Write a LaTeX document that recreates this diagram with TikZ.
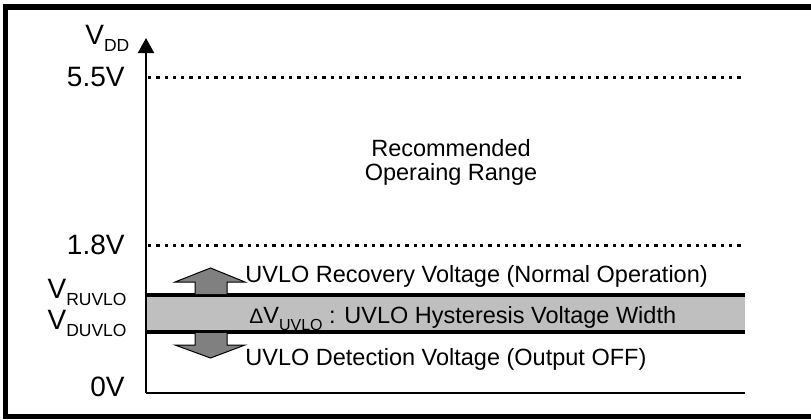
\documentclass[tikz,border=0pt]{standalone}
\usepackage{fontspec}
\setmainfont{Liberation Sans}
\usetikzlibrary{arrows.meta,positioning}
\newcommand\lowsub[2][8.75]{\raisebox{-3.5pt}{\fontsize{#1}{10}\selectfont #2}}
\tikzset{
  lvl/.style={font=\fontsize{14}{16}\selectfont, inner sep=0pt},
  txt/.style={font=\fontsize{11.75}{12}\selectfont, inner sep=0pt},
  dotln/.style={line width=1.5pt, dash pattern=on 1.65pt off 2.5pt},
  bandln/.style={line width=2pt},
  fatarr/.style={draw=black, line width=0.5pt, fill=black!50}
}
\begin{document}
\begin{tikzpicture}[x=0.5pt,y=-0.5pt]
\useasboundingbox (0,0) rectangle (811,419);
\draw[line width=2.75pt] (5.5,7) rectangle (815,416.5);
% axis and reference levels
\coordinate (O) at (146,393);
\coordinate (top) at (146,38);
\coordinate (xend) at (745,393);
\coordinate (r0) at (146,295);
\coordinate (r1) at (745,295);
\coordinate (d0) at (146,332);
\coordinate (d1) at (745,332);
\fill[black!25] (r0) rectangle (d1);
\draw[dotln] (148,77) coordinate (a0) -- (745,77) coordinate (a1);
\draw[dotln] (148,245) coordinate (b0) -- (745,245) coordinate (b1);
\draw[bandln] (r0) -- (r1);
\draw[bandln] (d0) -- (d1);
\draw[line width=1pt, -{Triangle[length=7.5pt,width=8pt]}] (O) -- (top);
\draw[line width=1pt] (O) -- (xend);
% up / down arrows
\draw[fatarr] (195,294) -- (195,282) -- (175,282) -- (210.5,268) -- (245,282) -- (227,282) -- (227,294);
\draw[fatarr] (195,333) -- (195,345) -- (175,345) -- (210.5,358) -- (245,345) -- (227,345) -- (227,333);
% labels
\node[lvl, anchor=base west] (vdd) at (85,44) {V\lowsub{DD}};
\node[lvl, anchor=east] (v55) at (125,77) {5.5V};
\node[lvl, anchor=east] (v18) at (125,245) {1.8V};
\node[lvl, anchor=base east] (vr) at (127,298) {V\lowsub{RUVLO}};
\node[lvl, anchor=base east] (vd) at (127,329) {V\lowsub{DUVLO}};
\node[lvl, anchor=base east] (v0) at (125,396) {0V};
\node[txt, align=center, anchor=north] (range) at (451,139) {Recommended\\Operaing Range};
\node[txt, anchor=base west] (rec) at (245,282) {UVLO Recovery Voltage (Normal Operation)};
\node[txt, anchor=base west] (hys) at (249,323) {{\fontsize{10.5}{12}\selectfont Δ}V\lowsub[8]{UVLO} : UVLO Hysteresis Voltage Width};
\node[txt, anchor=base west] (det) at (245,365) {UVLO Detection Voltage (Output OFF)};
\end{tikzpicture}
\end{document}
